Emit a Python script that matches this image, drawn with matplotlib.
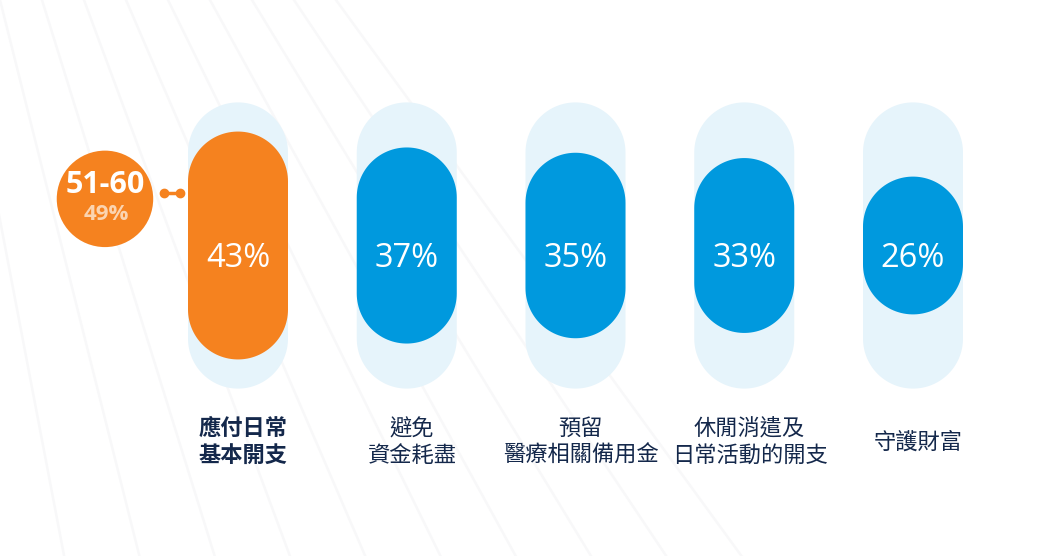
import matplotlib
matplotlib.use("Agg")
import matplotlib.pyplot as plt
from matplotlib.patches import Polygon, Circle
import numpy as np

# data
categories = ["應付日常\n基本開支", "避免\n資金耗盡", "預留\n醫療相關備用金",
              "休閒消遣及\n日常活動的開支", "守護財富"]
values = [43, 37, 35, 33, 26]
value_labels = ["43%", "37%", "35%", "33%", "26%"]
track_max = 54
group_label = "51-60"
group_value = "49%"

ORANGE = "#F5821F"
BLUE = "#0099DE"
TRACK = "#E6F4FB"
NAVY = "#14284B"
CJK = ["Noto Sans CJK TC", "DejaVu Sans"]
LATIN = ["Open Sans", "DejaVu Sans"]

PX = 5.3          # pixels per percentage point
W, H = 1054, 556
step = 168.75 / PX
pill_w = 100 / PX

fig = plt.figure(figsize=(W / 100, H / 100), dpi=100)
ax = fig.add_axes([0, 0, 1, 1])
ax.set_xlim(-238 / PX, (W - 238) / PX)
ax.set_ylim(-(H - 245.5) / PX, 245.5 / PX)
ax.axis("off")

# faint background fan lines
fx, fy = -414 / PX, 702 / PX + 245.5 / PX
for x0 in np.arange(-420, 360, 42):
    ex, ey = (x0 - 238) / PX, 245.5 / PX
    t = np.array([0, 5])
    ax.plot(fx + (ex - fx) * t, fy + (ey - fy) * t,
            color="#F8F8F9", lw=1.8, zorder=0)

xpos = np.arange(len(values)) * step


def pill(x, h, color, z):
    r = pill_w / 2
    a_top = np.linspace(0, np.pi, 60)
    a_bot = np.linspace(np.pi, 2 * np.pi, 60)
    px = np.concatenate([x + r * np.cos(a_top), x + r * np.cos(a_bot)])
    py = np.concatenate([h / 2 - r + r * np.sin(a_top),
                         -h / 2 + r + r * np.sin(a_bot)])
    ax.add_patch(Polygon(np.column_stack([px, py]), closed=True,
                         fc=color, ec="none", zorder=z))


for i, (x, v) in enumerate(zip(xpos, values)):
    pill(x, track_max, TRACK, 1)
    pill(x, v, ORANGE if i == 0 else BLUE, 2)
    ax.text(x, -2.4, value_labels[i], color="white", fontsize=23.5,
            family=LATIN, ha="center", va="center", zorder=3)
    ax.text(x + 1.0, -37.1, categories[i], color=NAVY, fontsize=16,
            family=CJK, fontweight="bold" if i == 0 else "normal",
            ha="center", va="center", linespacing=1.2, zorder=3)

# age-group marker
cx, cy, r = -25.1, 8.8, 9.1
ax.add_patch(Circle((cx, cy), r, fc=ORANGE, ec="none", zorder=2))
ax.text(cx, 11.4, group_label, color="white", fontsize=22, fontweight="bold",
        family=LATIN, ha="center", va="center", zorder=3)
ax.text(cx + 0.2, 5.8, group_value, color="#FBD4B0", fontsize=16,
        fontweight="bold", family=LATIN, ha="center", va="center",
        zorder=3)

# connector
ax.plot([-14.0, -11.0], [9.85, 9.85], color=ORANGE, lw=2.5, zorder=2)
ax.plot([-14.0, -11.0], [9.85, 9.85], "o", color=ORANGE, ms=6, zorder=2)

fig.savefig("out.png", dpi=100, facecolor="white")
